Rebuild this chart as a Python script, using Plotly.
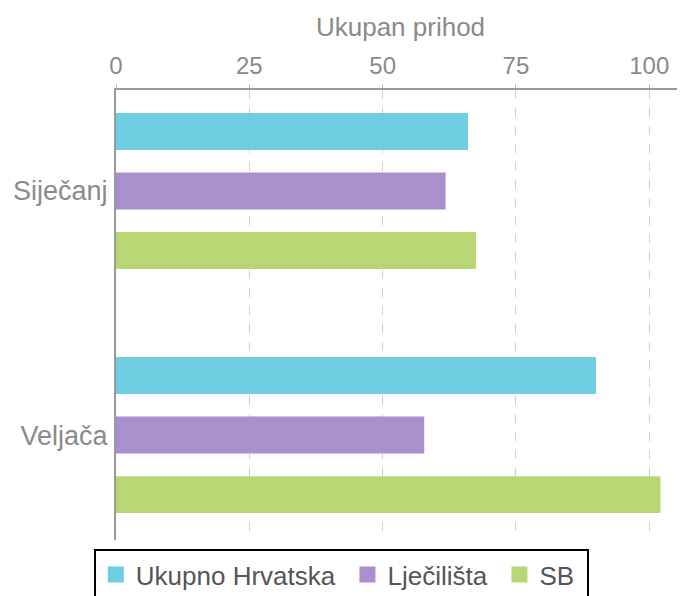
import plotly.graph_objects as go

months = ['Siječanj', 'Veljača']
series = ['Ukupno Hrvatska', 'Lječilišta', 'SB']
ukupno_hrvatska = [66, 90]
ljecilista = [61.8, 57.8]
sb = [67.5, 102.1]
x_ticks = [0, 25, 50, 75, 100]

colors = ['#6ecde0', '#a98fcb', '#b8d774']
values = [ukupno_hrvatska, ljecilista, sb]

fig = go.Figure()
for name, vals, col in zip(series, values, colors):
    fig.add_trace(go.Bar(y=months, x=vals, orientation='h', name=name,
                         marker=dict(color=col, line=dict(width=0)),
                         showlegend=False))
    # legend entry with a bigger square than the default bar icon,
    # a trailing non-breaking space widens the spacing between entries
    fig.add_trace(go.Scatter(y=[None], x=[None], mode='markers', name=name + '\u00a0',
                             marker=dict(symbol='square', size=21, color=col)))

# page body has an 8px margin, so the figure is 8px smaller each way
fig.update_layout(
    width=677,
    height=588,
    plot_bgcolor='white',
    paper_bgcolor='white',
    font=dict(family='Liberation Sans, Arial, sans-serif', size=24, color='#8a8a8a'),
    margin=dict(l=108, r=0, t=82, b=56, autoexpand=False),
    barmode='group',
    bargap=0.268,
    bargroupgap=0.38,
    legend=dict(orientation='h', x=-0.039, xanchor='left', y=-0.02, yanchor='top',
                bordercolor='black', borderwidth=2,
                font=dict(size=26, color='#555555'),
                itemsizing='trace'),
)

fig.update_xaxes(side='top', range=[0, 106.7], tickvals=x_ticks, automargin=False,
                 showgrid=True, gridcolor='#cfcfcf', griddash='dash', gridwidth=1,
                 zeroline=False, showline=True, linecolor='#9a9a9a', linewidth=2,
                 ticks='outside', ticklen=4, tickcolor='#c0c0c0',
                 tickfont=dict(size=24),
                 title=dict(text='Ukupan prihod', font=dict(size=26), standoff=8))
fig.update_yaxes(range=[1.43, -0.414], showgrid=False, zeroline=False, automargin=False,
                 showline=True, linecolor='#9a9a9a', linewidth=2,
                 tickfont=dict(size=27), ticks='', ticklabelstandoff=1)

fig.write_html("out.html")
